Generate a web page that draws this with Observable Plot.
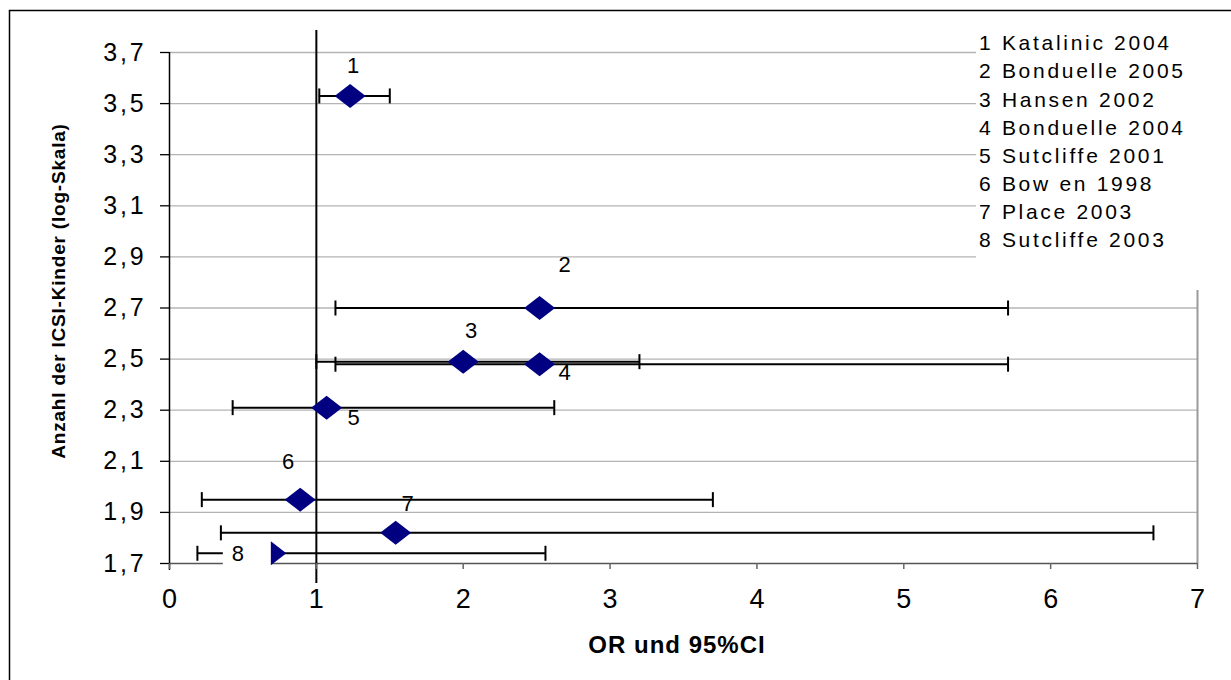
<!DOCTYPE html>
<html>
<head>
<meta charset="utf-8">
<script src="https://cdn.jsdelivr.net/npm/d3@7"></script>
<script src="https://cdn.jsdelivr.net/npm/@observablehq/plot@0.6"></script>
<style>
  body { margin: 0; background: #fff; }
  #chart svg text { font-family: "Liberation Sans", Arial, sans-serif; }
  #chart g[aria-label="y-axis tick label"] text { letter-spacing: 2.8px; }
</style>
</head>
<body>
<div id="chart"></div>
<script>
// ---- data ----
const studyIds   = [1, 2, 3, 4, 5, 6, 7, 8];
const studyNames = ["Katalinic 2004", "Bonduelle 2005", "Hansen 2002", "Bonduelle 2004",
                    "Sutcliffe 2001", "Bow en 1998", "Place 2003", "Sutcliffe 2003"];
const anzahlLog  = [3.53, 2.70, 2.49, 2.48, 2.31, 1.95, 1.82, 1.74];   // y: Anzahl der ICSI-Kinder (log)
const oddsRatio  = [1.23, 2.52, 2.00, 2.52, 1.07, 0.89, 1.54, 0.69];   // OR
const ciLower    = [1.02, 1.13, 1.00, 1.13, 0.43, 0.22, 0.35, 0.19];
const ciUpper    = [1.50, 5.71, 3.20, 5.71, 2.62, 3.70, 6.70, 2.56];
const yTicks     = [1.7, 1.9, 2.1, 2.3, 2.5, 2.7, 2.9, 3.1, 3.3, 3.5, 3.7];
const xTicks     = [0, 1, 2, 3, 4, 5, 6, 7];

// label offsets (pixels, styling only)
const labelOffsets = [[3, -30], [25, -43], [8, -31], [25, 9], [27, 10], [-12, -38], [12, -29], [-33, 1]];

const rows = studyIds.map((id, i) => ({
  id, name: studyNames[i], y: anzahlLog[i], or: oddsRatio[i], lo: ciLower[i], hi: ciUpper[i]
}));

// ---- custom symbols ----
const wideDiamond = { draw(ctx) { ctx.moveTo(-15.5, 0); ctx.lineTo(0, -12); ctx.lineTo(15.5, 0); ctx.lineTo(0, 12); ctx.closePath(); } };
const capSymbol   = { draw(ctx) { ctx.moveTo(0, -7.5); ctx.lineTo(0, 7.5); } };
const labelBox    = { draw(ctx) { ctx.rect(-48, -16, 48, 34); } };

const fmt = d => d.toFixed(1).replace(".", ",");
const FONT = '"Liberation Sans", Arial, sans-serif';

const plot = Plot.plot({
  width: 1231,
  height: 680,
  marginLeft: 169,
  marginRight: 34,
  marginTop: 52,
  marginBottom: 117,
  x: { domain: [0, 7] },
  y: { domain: [1.7, 3.7] },
  style: { fontFamily: FONT, background: "white", overflow: "visible" },
  marks: [
    Plot.ruleY(yTicks.filter(t => t > 1.7), { stroke: "#b4b4b4", strokeWidth: 1.3 }),
    Plot.ruleX([7], { stroke: "#9a9a9a", strokeWidth: 2 }),
    Plot.ruleY([1.7], { stroke: "#555", strokeWidth: 1.5 }),
    Plot.ruleX([1], { stroke: "#000", strokeWidth: 2, insetTop: -22, insetBottom: -20 }),
    Plot.ruleY(rows, { y: "y", x1: "lo", x2: "hi", stroke: "#000", strokeWidth: 2 }),
    Plot.dot(rows, { x: "lo", y: "y", symbol: capSymbol, stroke: "#000", strokeWidth: 2, fill: "none" }),
    Plot.dot(rows, { x: "hi", y: "y", symbol: capSymbol, stroke: "#000", strokeWidth: 2, fill: "none" }),
    Plot.dot(rows, { x: "or", y: "y", symbol: wideDiamond, fill: "#000080", stroke: "none" }),
    Plot.dot(rows.filter(d => d.id === 8), { x: "or", y: "y", symbol: labelBox, fill: "white", stroke: "none" }),
    ...rows.map((d, i) => Plot.text([d], {
      x: "or", y: "y", text: r => String(r.id),
      dx: labelOffsets[i][0], dy: labelOffsets[i][1],
      fontSize: 22, fill: "#000", textAnchor: "middle", lineAnchor: "middle"
    })),
    Plot.ruleX([0], { stroke: "#000", strokeWidth: 1.5, insetBottom: -7 }),
    Plot.axisY(yTicks, { tickSize: 9, tickPadding: 14, fontSize: 25, tickFormat: fmt, label: null, stroke: "#000", strokeWidth: 1.3 }),
    Plot.axisX(xTicks, { tickSize: 6, tickPadding: 19, fontSize: 27, tickFormat: d => String(d), label: null, stroke: "#666", strokeWidth: 1.5 })
  ]
});

document.getElementById("chart").appendChild(plot);

// ---- legend, titles, outer border ----
const svg = d3.select(plot);
svg.append("rect").attr("x", 976).attr("y", 12).attr("width", 260).attr("height", 278).attr("fill", "white");
const legend = svg.append("g").attr("font-family", FONT).attr("font-size", 21).attr("fill", "#000").attr("text-anchor", "start");
rows.forEach((d, i) => {
  legend.append("text")
    .attr("x", 979).attr("y", 43 + i * 28.1)
    .attr("dy", "0.35em")
    .attr("text-anchor", "start")
    .style("letter-spacing", "2.7px")
    .text(d.id + " " + d.name);
});

svg.append("text")
  .attr("x", 677).attr("y", 645).attr("dy", "0.35em")
  .attr("text-anchor", "middle")
  .attr("font-family", FONT).attr("font-size", 24).attr("font-weight", "bold")
  .style("letter-spacing", "1px")
  .text("OR und 95%CI");

svg.append("text")
  .attr("transform", "translate(58,291) rotate(-90)")
  .attr("dy", "0.35em")
  .attr("text-anchor", "middle")
  .attr("font-family", FONT).attr("font-size", 19).attr("font-weight", "bold")
  .style("letter-spacing", "0.8px")
  .text("Anzahl der ICSI-Kinder (log-Skala)");

svg.append("rect")
  .attr("x", 9.5).attr("y", 10.5).attr("width", 1400).attr("height", 1000)
  .attr("fill", "none").attr("stroke", "#000").attr("stroke-width", 1.5);
</script>
</body>
</html>
